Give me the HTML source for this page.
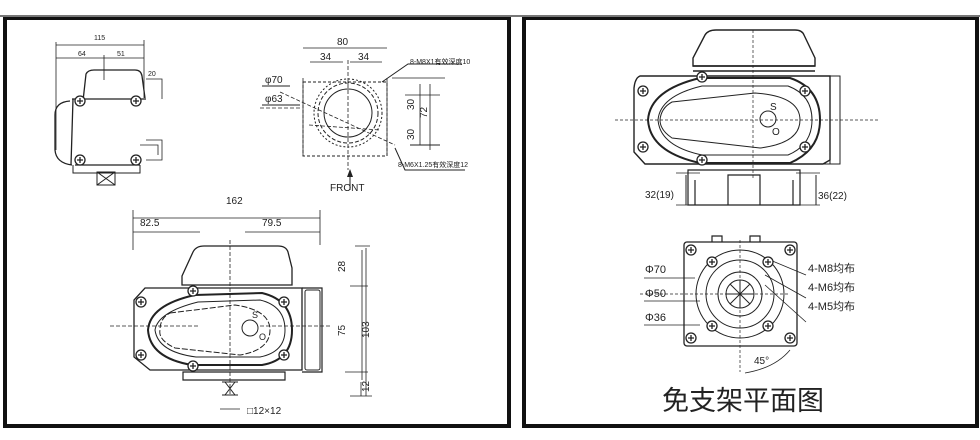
<!DOCTYPE html>
<html><head><meta charset="utf-8"><style>
html,body{margin:0;padding:0;background:#fff;width:980px;height:440px;overflow:hidden}
svg{display:block}
text{font-family:"Liberation Sans","Noto Sans CJK SC",sans-serif;fill:#222}
</style></head><body>
<svg width="980" height="440" viewBox="0 0 980 440">
<defs>
<g id="sc"><circle r="5" fill="#fff" stroke="#222" stroke-width="1.3"/><path d="M-3 0H3M0-3V3" stroke="#222" stroke-width="1.3"/></g>
<marker id="ar" markerWidth="8" markerHeight="6" refX="7" refY="3" orient="auto"><path d="M0 0L8 3L0 6z" fill="#222"/></marker>
</defs>
<rect x="0" y="0" width="980" height="440" fill="#fff"/>
<!-- frames -->
<rect x="5" y="18" width="504" height="408" fill="none" stroke="#111" stroke-width="4"/>
<rect x="524" y="18" width="453" height="408" fill="none" stroke="#111" stroke-width="4"/>
<rect x="0" y="15" width="980" height="2" fill="#777"/>

<g stroke="#222" fill="none" stroke-width="1">
<!-- small side view -->
<path d="M56 45H144M56 58H144M56 42V150M144 40V98M104 55V80" stroke-width="0.8"/>
<path d="M83 101L86 74Q88 70 94 70H135Q141 70 142 76L145 98" stroke-width="1.3"/>
<path d="M72 99H146M73 99L71 165M75 165H140M70 101Q55 102 55 115V150Q56 163 72 165" stroke-width="1.3"/>
<path d="M73 165V173H140V165M97 172H115V185H97z M97 172L115 185M115 172L97 185"/>
<path d="M146 79H162V99M146 140H162V160H146M140 145H158V155" stroke-width="0.8"/>
<!-- flange view -->
<path d="M303 78V155M387 78V155M303 48H387M310 62H343M350 62H382" stroke-width="0.8"/>
<rect x="303" y="82" width="84" height="74" stroke-dasharray="3,2"/>
<circle cx="348" cy="113" r="30" stroke-dasharray="4,2"/>
<circle cx="348" cy="113" r="24"/>
<circle cx="348" cy="113" r="34" stroke-dasharray="2,2"/>
<path d="M348 60V170M260 108H300M280 92L395 145M309 125L380 130" stroke-dasharray="4,2" stroke-width="0.8"/>
<path d="M350 190V170" marker-end="url(#ar)"/>
<path d="M420 84V145M430 84V150M392 78H445M405 95H440" stroke-width="0.8"/>
<path d="M262 86H290M262 105H300M410 145H440M395 148L405 170H465M382 82L408 64H462"/>
<!-- main front view -->
<path d="M133 210V250M320 210V245M133 218H320M133 232H200M245 232H320" stroke-width="0.8"/>
<path d="M182 285V276L193 252Q196 246 204 246H278Q286 246 288 252L292 268V285Z" stroke-width="1.3"/>
<path d="M145 288H302V370H150L134 357V300Z" stroke-width="1.3"/>
<path d="M302 288H322V372H302" stroke-width="1.2"/>
<rect x="305" y="290" width="15" height="80" rx="2"/>
<path d="M195 295Q150 305 148 330Q150 358 192 365H262Q292 360 292 330Q292 300 262 293Z" stroke-width="2"/>
<path d="M198 302Q158 312 155 330Q158 352 196 357H260Q285 352 285 330Q285 306 260 300Z"/>
<path d="M170 313L235 305Q270 310 270 330Q270 350 240 355L175 348Q158 340 160 330Q160 318 170 313Z" stroke-dasharray="6,2"/>
<circle cx="250" cy="328" r="8"/>
<path d="M183 372H285V380H183Z" stroke-width="1.2"/>
<path d="M230 240V395M110 326H200M260 326H330" stroke-dasharray="4,2" stroke-width="0.8"/>
<path d="M225 382L235 395M235 382L225 395M222 382H238M222 395H238"/>
<path d="M362 250V380M355 246H370M350 286H368M345 372H368M350 396H372M361 382V396M366 248V396M220 409H240" stroke-width="0.8"/>
<!-- right: actuator -->
<path d="M693 66V58L705 35Q708 30 716 30H795Q802 30 804 35L815 58V66Z" stroke-width="1.4"/>
<path d="M693 66H815M693 71H815" stroke-width="1.4"/>
<path d="M640 76Q635 78 634 88V152L645 164H823L830 160V76H640Z" stroke-width="1.4"/>
<path d="M823 76H840V164H823M830 76V164"/>
<path d="M700 78Q650 90 648 120Q650 152 700 163H790Q820 150 820 120Q820 88 790 78Z" stroke-width="2"/>
<path d="M702 86Q660 96 658 120Q660 146 702 155H788Q812 145 812 120Q812 95 788 86Z"/>
<path d="M672 102L755 93Q800 96 800 120Q800 143 760 148L672 138Q660 130 660 120Q661 108 672 102Z"/>
<circle cx="768" cy="119" r="8"/>
<path d="M753 30V180M615 120H880" stroke-dasharray="3,2" stroke-width="0.7"/>
<path d="M688 170H800V205H688Z M728 175H760V205H728Z M695 180V205M793 180V205" stroke-width="1.2"/>
<path d="M676 173H700M676 205H700M796 173H820M796 205H820" stroke-width="0.8"/>
<path d="M686 175V205M816 175V205"/>
<!-- flange plan -->
<rect x="684" y="242" width="113" height="104" rx="3" stroke-width="1.3"/>
<path d="M712 242V236H722V242M750 242V236H760V242" stroke-width="1.2"/>
<circle cx="740" cy="294" r="44"/>
<circle cx="740" cy="294" r="34"/>
<circle cx="740" cy="294" r="22"/>
<circle cx="740" cy="294" r="14"/>
<path d="M730 284L750 304M750 284L730 304M740 280V308M726 294H754"/>
<path d="M740 240V372M640 294H790" stroke-dasharray="3,2" stroke-width="0.7"/>
<path d="M644 278H695M644 301H700M644 325H700M806 275L770 260M806 298L765 275M806 322L765 285" stroke-width="0.8"/>
<path d="M745 373Q775 368 790 350" stroke-width="0.8"/>
</g>
<g>
<use href="#sc" x="80" y="101"/><use href="#sc" x="136" y="101"/><use href="#sc" x="80" y="160"/><use href="#sc" x="136" y="160"/>
<use href="#sc" x="193" y="291"/><use href="#sc" x="193" y="366"/><use href="#sc" x="141" y="302"/><use href="#sc" x="141" y="355"/><use href="#sc" x="284" y="302"/><use href="#sc" x="284" y="355"/>
<use href="#sc" x="702" y="77"/><use href="#sc" x="702" y="160"/><use href="#sc" x="643" y="91"/><use href="#sc" x="643" y="147"/><use href="#sc" x="805" y="91"/><use href="#sc" x="805" y="147"/>
<use href="#sc" x="691" y="250"/><use href="#sc" x="790" y="250"/><use href="#sc" x="691" y="338"/><use href="#sc" x="790" y="338"/>
<use href="#sc" x="712" y="262"/><use href="#sc" x="768" y="262"/><use href="#sc" x="712" y="326"/><use href="#sc" x="768" y="326"/>
</g>
<g font-size="7">
<text x="94" y="40">115</text><text x="78" y="56">64</text><text x="117" y="56">51</text><text x="148" y="76">20</text>
<text x="410" y="64">8-M8X1有效深度10</text><text x="398" y="167">8-M6X1.25有效深度12</text>
</g>
<g font-size="10">
<text x="337" y="45">80</text><text x="320" y="60">34</text><text x="358" y="60">34</text>
<text x="265" y="83">φ70</text><text x="265" y="102">φ63</text>
<text x="330" y="191">FRONT</text>
<text x="226" y="204">162</text><text x="140" y="226">82.5</text><text x="262" y="226">79.5</text>
<text x="247" y="414">□12×12</text>
<text x="252" y="318" font-size="9">S</text><text x="259" y="340" font-size="9">O</text>
<text x="770" y="110">S</text><text x="772" y="135">O</text>
<text x="645" y="198">32(19)</text><text x="818" y="199">36(22)</text>
<text x="645" y="273" font-size="11">Φ70</text><text x="645" y="297" font-size="11">Φ50</text><text x="645" y="321" font-size="11">Φ36</text>
<text x="808" y="272" font-size="11">4-M8均布</text><text x="808" y="291" font-size="11">4-M6均布</text><text x="808" y="310" font-size="11">4-M5均布</text>
<text x="754" y="364">45°</text>
</g>
<g font-size="10">
<text transform="translate(414,110) rotate(-90)">30</text>
<text transform="translate(414,140) rotate(-90)">30</text>
<text transform="translate(427,118) rotate(-90)">72</text>
<text transform="translate(345,272) rotate(-90)">28</text>
<text transform="translate(345,336) rotate(-90)">75</text>
<text transform="translate(369,338) rotate(-90)">103</text>
<text transform="translate(369,392) rotate(-90)">12</text>
</g>
<text x="662" y="410" font-size="27" font-family="'Noto Sans CJK SC',sans-serif">免支架平面图</text>
</svg>
</body></html>
